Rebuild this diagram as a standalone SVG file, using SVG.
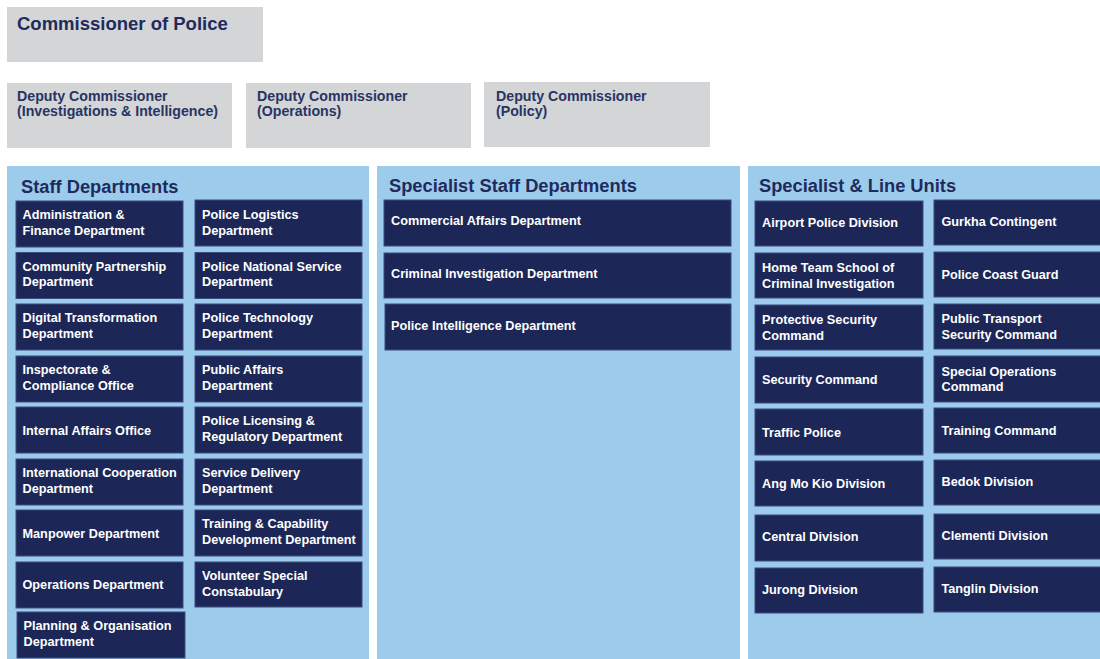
<svg xmlns="http://www.w3.org/2000/svg" width="1100" height="659" viewBox="0 0 1100 659">
<style>
  .bg { fill: #ffffff; }
  .gray { fill: #d3d5d7; }
  .panel { fill: #9ccbec; }
  .node { fill: #1c2757; stroke: #3b4d80; stroke-width: 1; }
  .t { font-family: "Liberation Sans", Arial, sans-serif; font-weight: bold; }
  .head { fill: #1e2b5c; font-size: 18.5px; }
  .dc { fill: #283463; font-size: 14.2px; }
  .ptitle { fill: #1e2b5c; font-size: 18.3px; }
  .nt { fill: #ffffff; font-size: 12.7px; }
</style>
<rect class="bg" x="0" y="0" width="1100" height="659"/>

<g id="commissioner">
  <rect class="gray" x="7" y="7" width="256" height="55"/>
  <text class="t head" x="17" y="30">Commissioner of Police</text>
</g>
<g id="dc-investigations">
  <rect class="gray" x="7" y="83" width="225" height="65"/>
  <text class="t dc" x="17" y="101">Deputy Commissioner</text>
  <text class="t dc" x="17" y="116">(Investigations &amp; Intelligence)</text>
</g>
<g id="dc-operations">
  <rect class="gray" x="246" y="83" width="225" height="65"/>
  <text class="t dc" x="257" y="101">Deputy Commissioner</text>
  <text class="t dc" x="257" y="116">(Operations)</text>
</g>
<g id="dc-policy">
  <rect class="gray" x="484" y="82" width="226" height="65"/>
  <text class="t dc" x="496" y="101">Deputy Commissioner</text>
  <text class="t dc" x="496" y="116">(Policy)</text>
</g>

<g id="panel-staff">
  <rect class="panel" x="7" y="166" width="362" height="493"/>
  <text class="t ptitle" x="21" y="192.5">Staff Departments</text>
</g>
<g id="panel-specialist-staff">
  <rect class="panel" x="377" y="166" width="363" height="493"/>
  <text class="t ptitle" x="389" y="192">Specialist Staff Departments</text>
</g>
<g id="panel-line-units">
  <rect class="panel" x="748" y="166" width="352" height="493"/>
  <text class="t ptitle" x="759" y="192">Specialist &amp; Line Units</text>
</g>

<g id="connectors"></g>

<!-- Staff Departments column 1 -->
<g id="admin-finance"><rect class="node" x="16" y="201" width="167" height="46"/><text class="t nt" x="22.5" y="219">Administration &amp;</text><text class="t nt" x="22.5" y="234.5">Finance Department</text></g>
<g id="community-partnership"><rect class="node" x="16" y="252.5" width="167" height="46"/><text class="t nt" x="22.5" y="270.5">Community Partnership</text><text class="t nt" x="22.5" y="286">Department</text></g>
<g id="digital-transformation"><rect class="node" x="16" y="304" width="167" height="46"/><text class="t nt" x="22.5" y="322">Digital Transformation</text><text class="t nt" x="22.5" y="337.5">Department</text></g>
<g id="inspectorate"><rect class="node" x="16" y="356" width="167" height="46"/><text class="t nt" x="22.5" y="374">Inspectorate &amp;</text><text class="t nt" x="22.5" y="389.5">Compliance Office</text></g>
<g id="internal-affairs"><rect class="node" x="16" y="407" width="167" height="46"/><text class="t nt" x="22.5" y="435">Internal Affairs Office</text></g>
<g id="international-cooperation"><rect class="node" x="16" y="459" width="167" height="46"/><text class="t nt" x="22.5" y="477">International Cooperation</text><text class="t nt" x="22.5" y="492.5">Department</text></g>
<g id="manpower"><rect class="node" x="16" y="510" width="167" height="46"/><text class="t nt" x="22.5" y="538">Manpower Department</text></g>
<g id="operations"><rect class="node" x="16" y="562" width="167" height="46"/><text class="t nt" x="22.5" y="589">Operations Department</text></g>
<g id="planning-organisation"><rect class="node" x="17" y="612" width="168" height="46"/><text class="t nt" x="23.5" y="630">Planning &amp; Organisation</text><text class="t nt" x="23.5" y="645.5">Department</text></g>

<!-- Staff Departments column 2 -->
<g id="police-logistics"><rect class="node" x="195" y="200" width="167" height="46"/><text class="t nt" x="202" y="219">Police Logistics</text><text class="t nt" x="202" y="234.5">Department</text></g>
<g id="police-national-service"><rect class="node" x="195" y="252.5" width="167" height="46"/><text class="t nt" x="202" y="270.5">Police National Service</text><text class="t nt" x="202" y="286">Department</text></g>
<g id="police-technology"><rect class="node" x="195" y="304" width="167" height="46"/><text class="t nt" x="202" y="322">Police Technology</text><text class="t nt" x="202" y="337.5">Department</text></g>
<g id="public-affairs"><rect class="node" x="195" y="356" width="167" height="46"/><text class="t nt" x="202" y="374">Public Affairs</text><text class="t nt" x="202" y="389.5">Department</text></g>
<g id="police-licensing"><rect class="node" x="195" y="407" width="167" height="46"/><text class="t nt" x="202" y="425">Police Licensing &amp;</text><text class="t nt" x="202" y="440.5">Regulatory Department</text></g>
<g id="service-delivery"><rect class="node" x="195" y="459" width="167" height="46"/><text class="t nt" x="202" y="477">Service Delivery</text><text class="t nt" x="202" y="492.5">Department</text></g>
<g id="training-capability"><rect class="node" x="195" y="510" width="167" height="46"/><text class="t nt" x="202" y="528">Training &amp; Capability</text><text class="t nt" x="202" y="543.5">Development Department</text></g>
<g id="volunteer-special"><rect class="node" x="195" y="562" width="167" height="45"/><text class="t nt" x="202" y="580">Volunteer Special</text><text class="t nt" x="202" y="595.5">Constabulary</text></g>

<!-- Specialist Staff Departments -->
<g id="commercial-affairs"><rect class="node" x="384" y="200" width="347" height="46"/><text class="t nt" x="391" y="225">Commercial Affairs Department</text></g>
<g id="criminal-investigation"><rect class="node" x="384" y="253" width="347" height="45"/><text class="t nt" x="391" y="278">Criminal Investigation Department</text></g>
<g id="police-intelligence"><rect class="node" x="385" y="304" width="346" height="46"/><text class="t nt" x="391" y="330">Police Intelligence Department</text></g>

<!-- Specialist & Line Units column 1 -->
<g id="airport-police"><rect class="node" x="755" y="201" width="168" height="45"/><text class="t nt" x="762" y="227">Airport Police Division</text></g>
<g id="home-team-school"><rect class="node" x="755" y="253" width="168" height="45"/><text class="t nt" x="762" y="271.5">Home Team School of</text><text class="t nt" x="762" y="287.5">Criminal Investigation</text></g>
<g id="protective-security"><rect class="node" x="755" y="305" width="168" height="45"/><text class="t nt" x="762" y="323.5">Protective Security</text><text class="t nt" x="762" y="339.5">Command</text></g>
<g id="security-command"><rect class="node" x="755" y="357" width="168" height="46"/><text class="t nt" x="762" y="384">Security Command</text></g>
<g id="traffic-police"><rect class="node" x="755" y="409" width="168" height="46"/><text class="t nt" x="762" y="437">Traffic Police</text></g>
<g id="ang-mo-kio"><rect class="node" x="755" y="461" width="168" height="45"/><text class="t nt" x="762" y="488">Ang Mo Kio Division</text></g>
<g id="central-division"><rect class="node" x="755" y="515" width="168" height="46"/><text class="t nt" x="762" y="541">Central Division</text></g>
<g id="jurong-division"><rect class="node" x="755" y="568" width="168" height="45"/><text class="t nt" x="762" y="594">Jurong Division</text></g>

<!-- Specialist & Line Units column 2 -->
<g id="gurkha"><rect class="node" x="934" y="200" width="170" height="45"/><text class="t nt" x="941.5" y="226">Gurkha Contingent</text></g>
<g id="coast-guard"><rect class="node" x="934" y="252" width="170" height="45"/><text class="t nt" x="941.5" y="279">Police Coast Guard</text></g>
<g id="public-transport"><rect class="node" x="934" y="304" width="170" height="45"/><text class="t nt" x="941.5" y="323">Public Transport</text><text class="t nt" x="941.5" y="339">Security Command</text></g>
<g id="special-operations"><rect class="node" x="934" y="356" width="170" height="46"/><text class="t nt" x="941.5" y="375.5">Special Operations</text><text class="t nt" x="941.5" y="390.5">Command</text></g>
<g id="training-command"><rect class="node" x="934" y="408" width="170" height="45"/><text class="t nt" x="941.5" y="435">Training Command</text></g>
<g id="bedok-division"><rect class="node" x="934" y="460" width="170" height="45"/><text class="t nt" x="941.5" y="486">Bedok Division</text></g>
<g id="clementi-division"><rect class="node" x="934" y="514" width="170" height="45"/><text class="t nt" x="941.5" y="540">Clementi Division</text></g>
<g id="tanglin-division"><rect class="node" x="934" y="567" width="170" height="45"/><text class="t nt" x="941.5" y="593">Tanglin Division</text></g>
</svg>
